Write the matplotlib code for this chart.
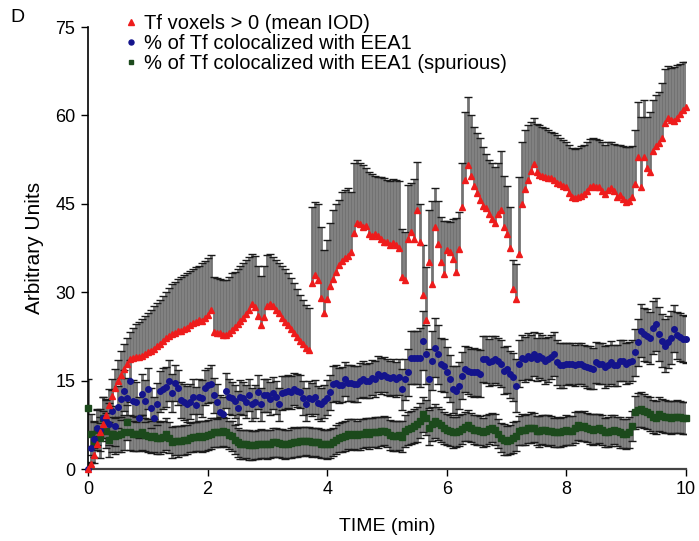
import numpy as np
import matplotlib
matplotlib.use("Agg")
import matplotlib.pyplot as plt
from matplotlib.lines import Line2D

plt.rcParams['font.family'] = ['Liberation Sans', 'DejaVu Sans']

# time axis (min), sampled every 0.05 min
time_min = np.linspace(0, 10, 201)

tf_voxels = [
    0.0, 0.8, 2.3, 4.3, 6.2, 7.7, 9.2, 10.8, 12.4, 13.8, 15.0, 16.0, 17.0, 17.9, 18.6, 18.9, 19.0, 19.0, 19.2, 19.5,
    19.8, 20.1, 20.3, 20.8, 21.2, 21.8, 22.3, 22.5, 22.9, 23.1, 23.4, 23.5, 23.7, 24.0, 24.4, 24.7, 25.0, 25.2, 25.1, 25.6,
    26.2, 27.0, 23.2, 23.1, 23.0, 22.7, 22.7, 23.1, 23.6, 24.1, 24.6, 25.1, 25.7, 26.3, 27.0, 28.0, 27.5, 26.0, 24.5, 25.8,
    27.6, 28.0, 27.6, 27.0, 26.4, 25.6, 25.0, 24.4, 23.8, 23.0, 22.4, 21.7, 21.2, 20.6, 20.2, 31.5, 33.0, 32.0, 29.0, 26.5,
    28.8, 31.0, 32.3, 33.5, 34.7, 35.3, 35.8, 36.2, 36.8, 40.0, 41.8, 41.5, 41.0, 41.2, 39.8, 39.6, 39.8, 39.5, 39.0, 38.6,
    38.5, 38.0, 38.3, 38.0, 37.5, 32.6, 32.0, 39.0, 40.2, 39.0, 44.0, 38.5, 29.5, 25.2, 35.1, 31.4, 41.0, 38.2, 35.1, 33.1,
    37.1, 36.9, 35.7, 33.4, 37.4, 44.5, 49.0, 51.5, 49.8, 48.1, 46.9, 45.6, 44.7, 44.3, 43.3, 42.5, 41.8, 43.3, 43.9, 41.0,
    39.9, 37.5, 30.6, 28.9, 36.5, 45.0, 47.5, 49.0, 50.5, 51.8, 50.4, 49.9, 49.7, 49.5, 49.4, 49.3, 49.0, 48.5, 48.3, 48.1,
    47.8, 46.8, 46.1, 45.9, 46.1, 46.4, 46.6, 47.2, 47.8, 48.1, 47.9, 47.8, 47.2, 46.7, 47.4, 47.6, 47.2, 46.1, 46.5, 45.8,
    45.3, 45.5, 46.1, 48.4, 52.9, 47.8, 52.9, 51.0, 50.4, 54.0, 54.8, 55.3, 56.1, 58.7, 59.5, 59.3, 59.0, 59.5, 60.3, 61.0,
    61.4]

tf_voxels_top = [
    0.3, 1.2, 3.5, 5.6, 7.8, 9.8, 11.8, 13.6, 15.3, 17.0, 18.5, 20.0, 21.2, 22.2, 23.2, 24.0, 24.6, 25.0, 25.5, 26.0,
    26.5, 27.0, 27.6, 28.1, 28.6, 29.3, 30.1, 30.7, 31.4, 31.8, 32.2, 32.5, 33.0, 33.3, 33.6, 33.9, 34.2, 34.5, 34.9, 35.3,
    35.8, 36.3, 32.5, 32.4, 32.3, 32.1, 32.0, 32.6, 33.2, 33.5, 34.0, 34.5, 35.0, 35.5, 36.0, 36.4, 36.2, 34.5, 32.8, 34.5,
    36.3, 36.4, 35.9, 35.5, 35.0, 34.5, 34.0, 33.2, 32.4, 31.5, 30.6, 29.6, 28.6, 27.8, 27.4, 44.5, 45.3, 45.0, 41.0, 37.1,
    38.8, 41.7, 43.9, 45.0, 45.6, 47.0, 47.4, 47.6, 47.0, 52.0, 52.4, 52.0, 51.5, 51.0, 50.4, 50.0, 49.8, 49.6, 49.5, 49.3,
    49.0, 48.8, 49.2, 49.0, 48.8, 40.8, 40.2, 48.2, 48.5, 49.2, 52.1, 45.0, 38.0, 34.2, 44.0, 45.5, 47.6, 45.5, 42.7, 42.0,
    42.0, 41.9, 42.4, 42.6, 43.6, 52.0, 60.5, 63.1, 60.0, 58.0, 57.0, 56.1, 54.6, 53.5, 52.4, 52.0, 51.2, 52.0, 54.0, 49.8,
    48.1, 44.5, 35.4, 34.8, 49.5, 55.5, 57.5, 58.3, 58.8, 59.5, 58.5, 58.3, 58.0, 57.8, 57.5, 57.2, 57.0, 56.6, 56.2, 55.8,
    55.5, 55.0, 54.4, 54.3, 54.4, 54.8, 55.0, 55.5, 56.0, 56.1, 56.0, 55.8, 55.5, 55.0, 55.5, 55.5, 55.2, 55.0, 55.0, 54.8,
    54.6, 54.7, 54.8, 57.5, 62.3, 59.7, 62.6, 59.7, 60.5, 62.6, 63.5, 64.0, 65.5, 67.9, 68.3, 68.0, 68.2, 68.5, 68.8, 69.1,
    69.0]

coloc_eea1 = [
    0.0, 3.5, 5.1, 7.0, 6.6, 8.7, 8.2, 7.6, 9.9, 7.3, 10.5, 11.9, 13.3, 12.0, 14.9, 11.6, 11.3, 8.7, 12.7, 11.5,
    13.6, 10.4, 8.7, 11.0, 13.2, 13.6, 13.9, 15.0, 12.9, 14.6, 13.8, 11.7, 11.4, 11.0, 11.4, 12.3, 10.9, 12.3, 12.0, 13.8,
    14.2, 14.5, 12.5, 11.4, 9.6, 9.3, 13.3, 12.3, 12.0, 11.5, 10.4, 12.2, 12.0, 11.4, 12.5, 11.0, 11.4, 13.0, 11.0, 12.5,
    12.5, 11.9, 12.9, 12.2, 11.0, 12.9, 13.0, 13.2, 13.0, 13.6, 13.3, 13.1, 12.0, 11.0, 12.1, 11.8, 12.2, 11.2, 11.0, 11.5,
    12.1, 13.0, 14.4, 14.6, 14.2, 14.3, 15.3, 14.6, 14.6, 14.4, 14.4, 15.0, 15.3, 15.0, 15.0, 15.5, 15.3, 16.1, 15.8, 16.0,
    15.6, 15.4, 15.6, 15.2, 15.6, 13.5, 15.2, 16.4, 18.9, 18.9, 18.9, 18.9, 21.8, 19.5, 15.3, 18.4, 20.6, 19.5, 17.8, 17.5,
    16.5, 15.3, 13.5, 13.3, 14.1, 15.8, 16.9, 16.7, 16.4, 16.4, 16.4, 16.2, 18.6, 18.6, 18.1, 18.4, 18.6, 18.3, 17.9, 16.7,
    16.9, 16.1, 15.6, 14.1, 17.9, 18.9, 18.6, 19.2, 18.9, 19.5, 18.6, 19.2, 18.9, 18.3, 18.6, 19.0, 19.5, 18.1, 17.6, 17.6,
    17.8, 17.9, 17.8, 17.6, 17.9, 17.9, 17.5, 17.3, 17.2, 17.0, 18.1, 17.9, 17.9, 17.3, 17.6, 18.1, 17.6, 17.6, 18.4, 18.4,
    17.9, 18.1, 18.4, 19.8, 21.5, 23.5, 22.9, 22.6, 22.3, 24.0, 24.6, 22.9, 21.8, 20.9, 21.5, 22.3, 23.8, 22.7, 22.4, 22.1,
    22.0]

coloc_eea1_err = [
    1.0, 2.5, 3.0, 3.0, 3.5, 3.5, 3.5, 3.6, 3.5, 3.4, 3.5, 3.6, 3.5, 3.5, 3.6, 3.5, 3.4, 3.5, 3.5, 3.6,
    3.5, 3.4, 3.5, 3.6, 3.5, 3.5, 3.4, 3.5, 3.3, 3.1, 3.0, 3.0, 3.1, 3.0, 3.0, 2.9, 3.0, 3.0, 3.1, 3.0,
    3.0, 3.1, 3.0, 3.0, 2.9, 3.0, 3.0, 2.9, 2.8, 2.8, 2.8, 2.9, 2.8, 2.8, 2.7, 2.8, 2.8, 2.9, 2.8, 2.8,
    2.8, 2.8, 2.7, 2.8, 2.8, 2.9, 2.8, 2.8, 2.8, 2.7, 2.8, 2.8, 2.9, 2.8, 2.8, 2.8, 2.9, 2.8, 2.8, 2.8,
    3.0, 3.0, 3.0, 3.1, 3.0, 3.0, 2.9, 3.0, 3.0, 3.1, 3.0, 3.0, 3.0, 2.9, 3.0, 3.0, 3.1, 3.0, 3.0, 3.0,
    3.0, 3.0, 3.1, 3.0, 3.0, 3.5, 3.5, 4.0, 4.5, 4.5, 4.5, 5.0, 5.0, 5.0, 5.0, 5.0, 5.0, 5.0, 4.5, 4.5,
    4.2, 4.0, 4.0, 4.1, 4.0, 4.0, 3.9, 4.0, 4.0, 4.1, 4.0, 4.0, 3.9, 4.0, 4.0, 4.1, 4.0, 4.0, 4.0, 4.0,
    4.0, 4.0, 4.0, 4.5, 4.0, 3.8, 3.8, 3.9, 3.8, 3.8, 3.7, 3.8, 3.8, 3.9, 3.8, 3.8, 3.7, 3.8, 3.8, 3.8,
    3.5, 3.5, 3.6, 3.5, 3.5, 3.4, 3.5, 3.5, 3.6, 3.5, 3.5, 3.5, 3.4, 3.5, 3.5, 3.6, 3.5, 3.5, 3.5, 3.5,
    3.5, 3.5, 3.5, 4.0, 4.0, 4.5, 4.5, 4.5, 4.4, 4.5, 4.5, 4.6, 4.5, 4.5, 4.4, 4.5, 4.0, 4.0, 4.1, 4.0,
    4.0]

coloc_spurious = [
    10.4, 5.9, 4.5, 6.7, 5.3, 8.7, 6.5, 5.0, 5.9, 5.6, 5.8, 5.9, 6.2, 7.9, 6.2, 6.0, 5.9, 6.0, 6.2, 5.8,
    5.6, 5.4, 5.6, 5.3, 5.3, 5.5, 5.9, 5.3, 4.5, 4.8, 4.7, 4.8, 4.9, 5.0, 5.3, 5.4, 5.5, 5.6, 5.5, 5.6,
    5.8, 6.0, 6.2, 6.2, 6.3, 6.4, 6.2, 5.8, 5.6, 5.0, 4.5, 4.2, 4.2, 4.3, 4.1, 4.0, 4.1, 4.2, 4.3, 4.2,
    4.2, 4.3, 4.5, 4.5, 4.4, 4.3, 4.2, 4.3, 4.4, 4.6, 4.5, 4.7, 4.7, 4.8, 4.7, 4.5, 4.6, 4.5, 4.3, 4.2,
    4.2, 4.3, 4.6, 5.0, 5.3, 5.4, 5.6, 5.9, 5.8, 5.9, 5.7, 5.9, 6.0, 6.2, 6.0, 6.2, 6.3, 6.2, 6.4, 6.5,
    6.3, 5.8, 5.6, 5.6, 5.7, 5.5, 6.5, 6.8, 7.0, 7.3, 7.6, 8.2, 9.3, 8.7, 7.0, 7.6, 8.2, 7.8, 7.4, 7.0,
    6.7, 6.5, 6.2, 6.3, 6.5, 6.8, 7.2, 7.4, 7.0, 6.7, 6.6, 6.5, 6.2, 6.5, 6.8, 7.0, 6.7, 6.0, 5.3, 5.0,
    4.8, 5.0, 5.3, 5.6, 6.5, 6.7, 6.6, 6.9, 7.0, 7.0, 6.5, 6.4, 6.7, 6.6, 6.5, 6.5, 6.2, 6.3, 6.2, 6.4,
    6.6, 6.5, 6.5, 7.0, 7.4, 7.2, 7.3, 7.0, 6.8, 6.7, 6.8, 6.9, 6.6, 6.2, 6.3, 6.5, 6.7, 6.4, 6.2, 6.0,
    5.9, 6.2, 7.3, 9.6, 10.0, 10.1, 9.8, 9.6, 9.3, 8.9, 8.7, 9.3, 9.0, 8.9, 8.8, 8.7, 8.8, 8.9, 8.8, 8.7,
    8.7]

coloc_spurious_err = [
    4.8, 3.5, 3.5, 3.5, 3.5, 3.5, 3.0, 3.0, 3.0, 3.0, 3.0, 3.0, 3.0, 3.0, 3.0, 3.0, 2.9, 3.0, 2.9, 2.8,
    2.8, 2.7, 2.8, 2.8, 2.7, 2.6, 2.7, 2.6, 2.6, 2.5, 2.6, 2.5, 2.6, 2.5, 2.5, 2.6, 2.5, 2.5, 2.6, 2.5,
    2.5, 2.6, 2.5, 2.5, 2.6, 2.5, 2.5, 2.4, 2.5, 2.5, 2.4, 2.5, 2.5, 2.4, 2.5, 2.5, 2.4, 2.5, 2.5, 2.4,
    2.5, 2.4, 2.5, 2.5, 2.4, 2.5, 2.5, 2.4, 2.5, 2.5, 2.4, 2.5, 2.5, 2.4, 2.5, 2.5, 2.4, 2.5, 2.5, 2.4,
    2.5, 2.5, 2.4, 2.5, 2.5, 2.6, 2.5, 2.5, 2.6, 2.5, 2.5, 2.6, 2.5, 2.5, 2.6, 2.5, 2.5, 2.6, 2.5, 2.5,
    2.6, 2.5, 2.5, 2.6, 2.5, 2.6, 2.7, 2.8, 2.8, 2.9, 3.0, 3.0, 3.0, 3.0, 3.0, 2.9, 2.9, 2.8, 2.8, 2.7,
    2.7, 2.6, 2.6, 2.5, 2.6, 2.6, 2.5, 2.6, 2.5, 2.5, 2.6, 2.5, 2.5, 2.6, 2.5, 2.5, 2.6, 2.5, 2.5, 2.6,
    2.5, 2.5, 2.6, 2.5, 2.5, 2.6, 2.5, 2.5, 2.6, 2.5, 2.5, 2.6, 2.5, 2.5, 2.6, 2.5, 2.5, 2.6, 2.5, 2.5,
    2.6, 2.5, 2.5, 2.6, 2.5, 2.5, 2.6, 2.5, 2.5, 2.6, 2.5, 2.5, 2.6, 2.5, 2.5, 2.6, 2.5, 2.5, 2.6, 2.5,
    2.5, 2.6, 2.6, 2.8, 2.9, 3.0, 2.9, 2.8, 2.9, 2.8, 2.8, 2.9, 2.8, 2.8, 2.7, 2.8, 2.7, 2.8, 2.7, 2.7,
    2.7]

labels = ["Tf voxels > 0 (mean IOD)",
          "% of Tf colocalized with EEA1",
          "% of Tf colocalized with EEA1 (spurious)"]
x_ticks = [0, 2, 4, 6, 8, 10]
y_ticks = [0, 15, 30, 45, 60, 75]

RED = '#ee1c1c'
BLUE = '#14148c'
GREEN = '#1c4a1c'
ECOL = '#727272'
CAPCOL = '#1a1a1a'

t = np.asarray(time_min)
red = np.asarray(tf_voxels)
red_top = np.asarray(tf_voxels_top)
blue = np.asarray(coloc_eea1)
blue_e = np.asarray(coloc_eea1_err)
green = np.asarray(coloc_spurious)
green_e = np.asarray(coloc_spurious_err)

fig = plt.figure(figsize=(6.99, 5.41), dpi=100)
ax = fig.add_axes([88/699, 1-469/541, (686-88)/699, (469-27)/541])

elw = 2.0
capw = 6.0
# error bars
ax.vlines(t, red, red_top, colors=ECOL, linewidth=elw, zorder=1)
ax.plot(t, red_top, ls='none', marker='_', ms=capw, mew=1.0, color=CAPCOL, zorder=1.5)
for y, e in ((blue, blue_e), (green, green_e)):
    ax.vlines(t, y - e, y + e, colors=ECOL, linewidth=elw, zorder=1)
    ax.plot(t, y + e, ls='none', marker='_', ms=capw, mew=1.0, color=CAPCOL, zorder=1.5)
    ax.plot(t, y - e, ls='none', marker='_', ms=capw, mew=1.0, color=CAPCOL, zorder=1.5)

# markers
ax.plot(t, green, ls='none', marker='s', ms=3.8, color=GREEN, mec=GREEN, zorder=3, clip_on=False)
ax.plot(t, blue, ls='none', marker='o', ms=4.0, color=BLUE, mec=BLUE, zorder=3, clip_on=False)
ax.plot(t, red, ls='none', marker='^', ms=5.0, color=RED, mec=RED, zorder=4, clip_on=False)

ax.set_xlim(0, 10)
ax.set_ylim(0, 75)
ax.set_xticks(x_ticks)
ax.set_yticks(y_ticks)
ax.tick_params(direction='out', length=5, width=1.0, labelsize=13, pad=4)
for s in ('top', 'right'):
    ax.spines[s].set_visible(False)
ax.spines['left'].set_linewidth(1.2)
ax.spines['bottom'].set_linewidth(1.6)
ax.spines['bottom'].set_color('#444444')

ax.set_xlabel('TIME (min)', fontsize=14, labelpad=14)
ax.set_ylabel('Arbitrary Units', fontsize=15, labelpad=8)

handles = [
    Line2D([], [], ls='none', marker='^', ms=4.5, color=RED),
    Line2D([], [], ls='none', marker='o', ms=3.6, color=BLUE),
    Line2D([], [], ls='none', marker='s', ms=3.4, color=GREEN),
]
fig.legend(handles, labels, loc='upper left', bbox_to_anchor=(112/699, 1-0/541),
           frameon=False, fontsize=14.5, handlelength=0.5, handletextpad=0.4,
           labelspacing=0.05, borderpad=0.2)

fig.text(10/699, 1-17/541, 'D', fontsize=14, va='center', ha='left')

fig.savefig('out.png', dpi=100)
